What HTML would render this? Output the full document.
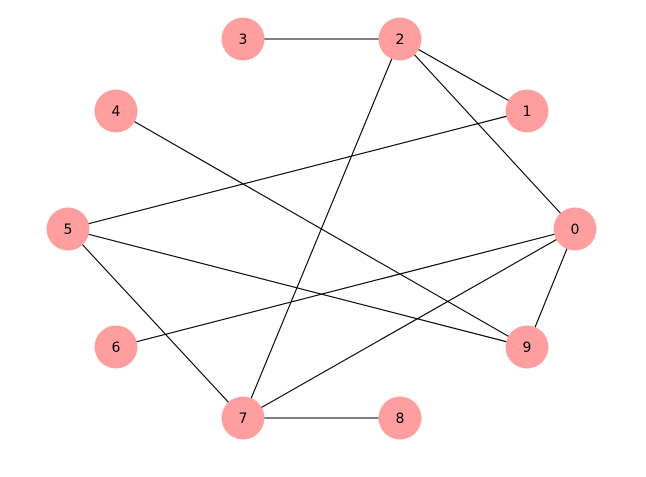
<!DOCTYPE html>
<html><head><meta charset="utf-8"><style>html,body{margin:0;padding:0;background:#fff;}</style></head>
<body>
<svg width="646" height="472" xmlns="http://www.w3.org/2000/svg">
<g stroke="#000" stroke-width="1.1">
<line x1="243" y1="39" x2="400" y2="39"/>
<line x1="400" y1="39" x2="527" y2="111"/>
<line x1="400" y1="39" x2="575" y2="229"/>
<line x1="400" y1="39" x2="243" y2="418"/>
<line x1="527" y1="111" x2="68" y2="229"/>
<line x1="116" y1="111" x2="527" y2="347"/>
<line x1="68" y1="229" x2="527" y2="347"/>
<line x1="68" y1="229" x2="243" y2="418"/>
<line x1="575" y1="229" x2="116" y2="347"/>
<line x1="575" y1="229" x2="243" y2="418"/>
<line x1="575" y1="229" x2="527" y2="347"/>
<line x1="243" y1="418" x2="400" y2="418"/>
</g>
<g fill="#ff9e9e">
<circle cx="575" cy="229" r="21.5"/><circle cx="527" cy="111" r="21.5"/>
<circle cx="400" cy="39" r="21.5"/><circle cx="243" cy="39" r="21.5"/>
<circle cx="116" cy="111" r="21.5"/><circle cx="68" cy="229" r="21.5"/>
<circle cx="116" cy="347" r="21.5"/><circle cx="243" cy="418" r="21.5"/>
<circle cx="400" cy="418" r="21.5"/><circle cx="527" cy="347" r="21.5"/>
</g>
<g font-family="DejaVu Sans, sans-serif" font-size="14" text-anchor="middle" fill="#000">
<text x="575" y="234">0</text><text x="527" y="116">1</text>
<text x="400" y="44">2</text><text x="243" y="44">3</text>
<text x="116" y="116">4</text><text x="68" y="234">5</text>
<text x="116" y="352">6</text><text x="243" y="423">7</text>
<text x="400" y="423">8</text><text x="527" y="352">9</text>
</g>
</svg>
</body></html>
